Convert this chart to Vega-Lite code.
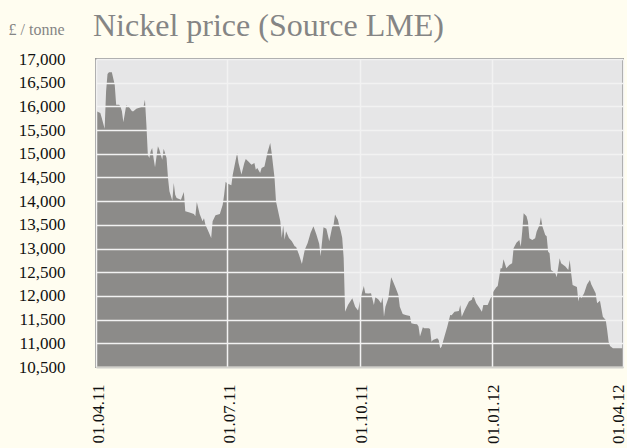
{
  "$schema": "https://vega.github.io/schema/vega-lite/v6.json",
  "width": 527,
  "height": 308,
  "autosize": {"type": "none"},
  "padding": {"left": 96, "top": 59, "right": 4, "bottom": 81},
  "background": "#fffdf0",
  "title": {
    "text": "Nickel price (Source LME)",
    "anchor": "start",
    "frame": "group",
    "font": "Liberation Serif",
    "fontSize": 32,
    "fontWeight": "normal",
    "color": "#858585",
    "offset": 18,
    "dx": -3,
    "dy": 40
  },
  "config": {
    "view": {"fill": "#e6e6e7", "stroke": "#9a9a9a", "strokeWidth": 2},
    "axis": {"labelFont": "Liberation Serif", "labelFontSize": 17, "labelColor": "#111111", "titleFont": "Liberation Serif"}
  },
  "data": {
    "values": [
      {"date": "2011-04-01", "price": 15900},
      {"date": "2011-04-04", "price": 15860},
      {"date": "2011-04-05", "price": 15755},
      {"date": "2011-04-07", "price": 15530},
      {"date": "2011-04-08", "price": 16318},
      {"date": "2011-04-09", "price": 16683},
      {"date": "2011-04-10", "price": 16720},
      {"date": "2011-04-12", "price": 16720},
      {"date": "2011-04-14", "price": 16458},
      {"date": "2011-04-15", "price": 16036},
      {"date": "2011-04-17", "price": 16036},
      {"date": "2011-04-18", "price": 16000},
      {"date": "2011-04-19", "price": 15896},
      {"date": "2011-04-20", "price": 15664},
      {"date": "2011-04-22", "price": 16023},
      {"date": "2011-04-24", "price": 15981},
      {"date": "2011-04-26", "price": 15896},
      {"date": "2011-04-27", "price": 15896},
      {"date": "2011-04-29", "price": 15951},
      {"date": "2011-05-02", "price": 15981},
      {"date": "2011-05-04", "price": 16000},
      {"date": "2011-05-05", "price": 16142},
      {"date": "2011-05-06", "price": 15614},
      {"date": "2011-05-07", "price": 14981},
      {"date": "2011-05-08", "price": 14911},
      {"date": "2011-05-09", "price": 15053},
      {"date": "2011-05-10", "price": 15122},
      {"date": "2011-05-11", "price": 14900},
      {"date": "2011-05-12", "price": 14714},
      {"date": "2011-05-14", "price": 15158},
      {"date": "2011-05-15", "price": 15086},
      {"date": "2011-05-17", "price": 14875},
      {"date": "2011-05-18", "price": 15107},
      {"date": "2011-05-20", "price": 14911},
      {"date": "2011-05-21", "price": 14489},
      {"date": "2011-05-22", "price": 14208},
      {"date": "2011-05-24", "price": 14010},
      {"date": "2011-05-25", "price": 14383},
      {"date": "2011-05-26", "price": 14137},
      {"date": "2011-05-27", "price": 14067},
      {"date": "2011-05-30", "price": 14031},
      {"date": "2011-06-01", "price": 14194},
      {"date": "2011-06-02", "price": 13786},
      {"date": "2011-06-05", "price": 13760},
      {"date": "2011-06-08", "price": 13730},
      {"date": "2011-06-09", "price": 13681},
      {"date": "2011-06-10", "price": 13983},
      {"date": "2011-06-12", "price": 13730},
      {"date": "2011-06-14", "price": 13575},
      {"date": "2011-06-15", "price": 13640},
      {"date": "2011-06-16", "price": 13504},
      {"date": "2011-06-18", "price": 13364},
      {"date": "2011-06-20", "price": 13223},
      {"date": "2011-06-21", "price": 13575},
      {"date": "2011-06-23", "price": 13702},
      {"date": "2011-06-26", "price": 13730},
      {"date": "2011-06-28", "price": 13926},
      {"date": "2011-06-29", "price": 14137},
      {"date": "2011-06-30", "price": 14405},
      {"date": "2011-07-02", "price": 14362},
      {"date": "2011-07-04", "price": 14335},
      {"date": "2011-07-05", "price": 14560},
      {"date": "2011-07-08", "price": 15017},
      {"date": "2011-07-09", "price": 14806},
      {"date": "2011-07-11", "price": 14560},
      {"date": "2011-07-13", "price": 14806},
      {"date": "2011-07-14", "price": 14890},
      {"date": "2011-07-16", "price": 14830},
      {"date": "2011-07-18", "price": 14770},
      {"date": "2011-07-20", "price": 14806},
      {"date": "2011-07-21", "price": 14665},
      {"date": "2011-07-22", "price": 14700},
      {"date": "2011-07-24", "price": 14595},
      {"date": "2011-07-25", "price": 14700},
      {"date": "2011-07-27", "price": 14730},
      {"date": "2011-07-29", "price": 15017},
      {"date": "2011-07-31", "price": 15228},
      {"date": "2011-08-01", "price": 15017},
      {"date": "2011-08-03", "price": 14489},
      {"date": "2011-08-04", "price": 13997},
      {"date": "2011-08-07", "price": 13575},
      {"date": "2011-08-08", "price": 13223},
      {"date": "2011-08-09", "price": 13490},
      {"date": "2011-08-10", "price": 13187},
      {"date": "2011-08-11", "price": 13364},
      {"date": "2011-08-13", "price": 13223},
      {"date": "2011-08-15", "price": 13152},
      {"date": "2011-08-17", "price": 13047},
      {"date": "2011-08-18", "price": 13030},
      {"date": "2011-08-20", "price": 12870},
      {"date": "2011-08-22", "price": 12675},
      {"date": "2011-08-24", "price": 12976},
      {"date": "2011-08-26", "price": 13117},
      {"date": "2011-08-28", "price": 13328},
      {"date": "2011-08-30", "price": 13470},
      {"date": "2011-09-01", "price": 13300},
      {"date": "2011-09-03", "price": 13100},
      {"date": "2011-09-04", "price": 12837},
      {"date": "2011-09-06", "price": 13449},
      {"date": "2011-09-08", "price": 13420},
      {"date": "2011-09-10", "price": 13152},
      {"date": "2011-09-12", "price": 13449},
      {"date": "2011-09-13", "price": 13500},
      {"date": "2011-09-14", "price": 13716},
      {"date": "2011-09-16", "price": 13610},
      {"date": "2011-09-17", "price": 13470},
      {"date": "2011-09-18", "price": 13364},
      {"date": "2011-09-19", "price": 13223},
      {"date": "2011-09-20", "price": 12801},
      {"date": "2011-09-21", "price": 11668},
      {"date": "2011-09-23", "price": 11810},
      {"date": "2011-09-26", "price": 11950},
      {"date": "2011-09-28", "price": 11774},
      {"date": "2011-09-30", "price": 11690},
      {"date": "2011-10-02", "price": 11985},
      {"date": "2011-10-04", "price": 12210},
      {"date": "2011-10-05", "price": 12056},
      {"date": "2011-10-07", "price": 12050},
      {"date": "2011-10-09", "price": 12056},
      {"date": "2011-10-11", "price": 11810},
      {"date": "2011-10-12", "price": 11971},
      {"date": "2011-10-14", "price": 11930},
      {"date": "2011-10-16", "price": 11845},
      {"date": "2011-10-17", "price": 11971},
      {"date": "2011-10-18", "price": 11563},
      {"date": "2011-10-19", "price": 11774},
      {"date": "2011-10-21", "price": 11950},
      {"date": "2011-10-23", "price": 12394},
      {"date": "2011-10-24", "price": 12323},
      {"date": "2011-10-26", "price": 12180},
      {"date": "2011-10-28", "price": 12020},
      {"date": "2011-10-29", "price": 11774},
      {"date": "2011-10-31", "price": 11620},
      {"date": "2011-11-02", "price": 11600},
      {"date": "2011-11-05", "price": 11577},
      {"date": "2011-11-06", "price": 11423},
      {"date": "2011-11-08", "price": 11410},
      {"date": "2011-11-10", "price": 11400},
      {"date": "2011-11-11", "price": 11353},
      {"date": "2011-11-12", "price": 11142},
      {"date": "2011-11-14", "price": 11339},
      {"date": "2011-11-15", "price": 11320},
      {"date": "2011-11-18", "price": 11320},
      {"date": "2011-11-19", "price": 11300},
      {"date": "2011-11-20", "price": 11035},
      {"date": "2011-11-21", "price": 11070},
      {"date": "2011-11-24", "price": 11106},
      {"date": "2011-11-25", "price": 11070},
      {"date": "2011-11-26", "price": 10896},
      {"date": "2011-11-27", "price": 10930},
      {"date": "2011-11-29", "price": 11142},
      {"date": "2011-12-01", "price": 11353},
      {"date": "2011-12-03", "price": 11598},
      {"date": "2011-12-04", "price": 11590},
      {"date": "2011-12-06", "price": 11668},
      {"date": "2011-12-09", "price": 11680},
      {"date": "2011-12-10", "price": 11810},
      {"date": "2011-12-11", "price": 11563},
      {"date": "2011-12-13", "price": 11700},
      {"date": "2011-12-16", "price": 11880},
      {"date": "2011-12-18", "price": 11920},
      {"date": "2011-12-19", "price": 12020},
      {"date": "2011-12-21", "price": 11850},
      {"date": "2011-12-23", "price": 11760},
      {"date": "2011-12-25", "price": 11668},
      {"date": "2011-12-26", "price": 11810},
      {"date": "2011-12-29", "price": 11810},
      {"date": "2011-12-31", "price": 11950},
      {"date": "2012-01-01", "price": 12020},
      {"date": "2012-01-02", "price": 12091},
      {"date": "2012-01-04", "price": 12183},
      {"date": "2012-01-05", "price": 12210},
      {"date": "2012-01-07", "price": 12584},
      {"date": "2012-01-08", "price": 12584},
      {"date": "2012-01-09", "price": 12774},
      {"date": "2012-01-11", "price": 12584},
      {"date": "2012-01-13", "price": 12650},
      {"date": "2012-01-15", "price": 12689},
      {"date": "2012-01-16", "price": 13006},
      {"date": "2012-01-18", "price": 13124},
      {"date": "2012-01-20", "price": 13180},
      {"date": "2012-01-21", "price": 13040},
      {"date": "2012-01-22", "price": 13356},
      {"date": "2012-01-23", "price": 13744},
      {"date": "2012-01-25", "price": 13680},
      {"date": "2012-01-26", "price": 13567},
      {"date": "2012-01-27", "price": 13216},
      {"date": "2012-01-29", "price": 13180},
      {"date": "2012-01-31", "price": 13216},
      {"date": "2012-02-01", "price": 13356},
      {"date": "2012-02-03", "price": 13497},
      {"date": "2012-02-04", "price": 13660},
      {"date": "2012-02-05", "price": 13470},
      {"date": "2012-02-07", "price": 13286},
      {"date": "2012-02-08", "price": 13260},
      {"date": "2012-02-09", "price": 12934},
      {"date": "2012-02-10", "price": 12900},
      {"date": "2012-02-11", "price": 12548},
      {"date": "2012-02-14", "price": 12480},
      {"date": "2012-02-15", "price": 12394},
      {"date": "2012-02-17", "price": 12795},
      {"date": "2012-02-18", "price": 12690},
      {"date": "2012-02-21", "price": 12620},
      {"date": "2012-02-23", "price": 12548},
      {"date": "2012-02-24", "price": 12759},
      {"date": "2012-02-25", "price": 12480},
      {"date": "2012-02-26", "price": 12232},
      {"date": "2012-02-29", "price": 12190},
      {"date": "2012-03-01", "price": 11880},
      {"date": "2012-03-02", "price": 12020},
      {"date": "2012-03-03", "price": 11950},
      {"date": "2012-03-05", "price": 12056},
      {"date": "2012-03-07", "price": 12240},
      {"date": "2012-03-09", "price": 12337},
      {"date": "2012-03-10", "price": 12240},
      {"date": "2012-03-13", "price": 12056},
      {"date": "2012-03-14", "price": 11845},
      {"date": "2012-03-16", "price": 11900},
      {"date": "2012-03-18", "price": 11563},
      {"date": "2012-03-20", "price": 11493},
      {"date": "2012-03-21", "price": 11282},
      {"date": "2012-03-22", "price": 11035},
      {"date": "2012-03-23", "price": 10944},
      {"date": "2012-03-25", "price": 10896},
      {"date": "2012-03-29", "price": 10896},
      {"date": "2012-04-01", "price": 10896}
    ]
  },
  "mark": {"type": "area", "color": "#8c8b89", "interpolate": "linear", "clip": true},
  "encoding": {
    "x": {
      "field": "date",
      "type": "temporal",
      "scale": {"type": "utc", "domain": [{"year": 2011, "month": 4, "date": 1, "utc": true}, {"year": 2012, "month": 4, "date": 1, "utc": true}], "nice": false},
      "axis": {
        "title": null,
        "format": "%d.%m.%y",
        "values": [
          {"year": 2011, "month": 4, "date": 1, "utc": true},
          {"year": 2011, "month": 7, "date": 1, "utc": true},
          {"year": 2011, "month": 10, "date": 1, "utc": true},
          {"year": 2012, "month": 1, "date": 1, "utc": true},
          {"year": 2012, "month": 4, "date": 1, "utc": true}
        ],
        "labelAngle": 270,
        "labelAlign": "right",
        "labelBaseline": "middle",
        "labelPadding": 17,
        "labelFlush": false,
        "labelOffset": {"condition": {"test": "datum.value > 1333000000000", "value": -5}, "value": 2},
        "labelOverlap": false,
        "labelBound": false,
        "ticks": false,
        "domain": true,
        "domainColor": "#d2d1cb",
        "domainWidth": 2,
        "grid": true,
        "gridColor": "#f2f2f2",
        "gridWidth": 1.5,
        "zindex": 1
      }
    },
    "y": {
      "field": "price",
      "type": "quantitative",
      "scale": {"domain": [10500, 17000], "nice": false, "zero": false},
      "axis": {
        "title": "£ / tonne",
        "titleAngle": 0,
        "titleAlign": "left",
        "titleBaseline": "alphabetic",
        "titleX": -88,
        "titleY": -25,
        "titleFontSize": 16,
        "titleFontWeight": "normal",
        "titleColor": "#858585",
        "values": [10500, 11000, 11500, 12000, 12500, 13000, 13500, 14000, 14500, 15000, 15500, 16000, 16500, 17000],
        "format": ",d",
        "labelPadding": 31,
        "labelBaseline": "middle",
        "ticks": false,
        "domain": false,
        "grid": true,
        "gridColor": "#f2f2f2",
        "gridWidth": 1.5,
        "zindex": 1
      }
    }
  }
}
